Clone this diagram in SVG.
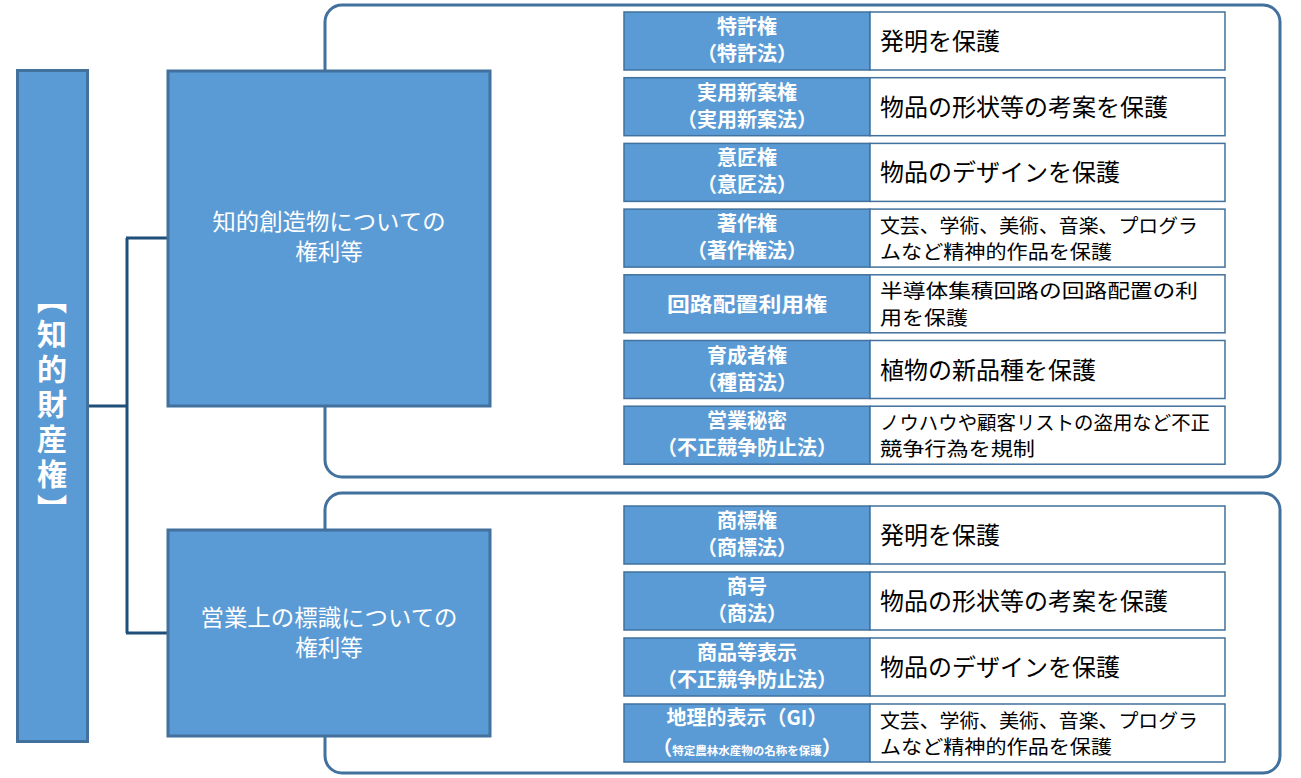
<svg xmlns="http://www.w3.org/2000/svg" width="1301" height="778" viewBox="0 0 1301 778">
<style>
.box{fill:#5B9BD5;stroke:#41719C;stroke-width:3}
.cont{fill:none;stroke:#41719C;stroke-width:3}
.conn{fill:none;stroke:#1F4E79;stroke-width:3}
.kc{fill:#5B9BD5;stroke:#41719C;stroke-width:1.5}
.vc{fill:#FFFFFF;stroke:#41719C;stroke-width:1.5}
.t{font-family:"Noto Sans CJK JP","Noto Sans CJK SC",sans-serif}
.w{fill:#FFFFFF}
.kt{fill:#FFFFFF;font-weight:bold;font-size:20px;text-anchor:middle}
.vt{fill:#000000;font-size:24px}
.vt2{fill:#000000;font-size:19.5px}
.mt{fill:#FFFFFF;font-size:22.5px;text-anchor:middle}
</style>
<rect width="1301" height="778" fill="#FFFFFF"/>
<rect class="cont" x="325" y="5" width="955" height="472" rx="17"/>
<rect class="cont" x="325" y="493" width="955" height="280" rx="17"/>
<g id="connectors">
<path class="conn" d="M88,406 H127 M127,238 V633 M126,238 H167 M126,633 H167"/>
</g>
<g id="root">
<rect class="box" x="17.5" y="70.5" width="70" height="671"/>
<text class="t w" x="52" y="406" writing-mode="vertical-rl" text-anchor="middle" font-size="30" font-weight="bold" letter-spacing="5">【知的財産権】</text>
</g>
<g id="creation">
<rect class="box" x="168" y="71" width="322" height="335"/>
<text class="t mt" x="329" y="229.5" textLength="233" lengthAdjust="spacingAndGlyphs">知的創造物についての</text>
<text class="t mt" x="329" y="260">権利等</text>
</g>
<g id="marks">
<rect class="box" x="168" y="530" width="322" height="206"/>
<text class="t mt" x="329" y="625.5" textLength="257" lengthAdjust="spacingAndGlyphs">営業上の標識についての</text>
<text class="t mt" x="329" y="656">権利等</text>
</g>
<g id="patent">
<rect class="kc" x="624" y="12" width="246" height="58"/><rect class="vc" x="870" y="12" width="355" height="58"/>
<text class="t kt" x="747" y="34">特許権</text><text class="t kt" x="747" y="61">（特許法）</text>
<text class="t vt" x="880" y="50">発明を保護</text>
</g>
<g id="utility">
<rect class="kc" x="624" y="77.7" width="246" height="58"/><rect class="vc" x="870" y="77.7" width="355" height="58"/>
<text class="t kt" x="747" y="99.7">実用新案権</text><text class="t kt" x="747" y="126.7">（実用新案法）</text>
<text class="t vt" x="880" y="115.7">物品の形状等の考案を保護</text>
</g>
<g id="design">
<rect class="kc" x="624" y="143.4" width="246" height="58"/><rect class="vc" x="870" y="143.4" width="355" height="58"/>
<text class="t kt" x="747" y="165.4">意匠権</text><text class="t kt" x="747" y="192.4">（意匠法）</text>
<text class="t vt" x="880" y="181.4">物品のデザインを保護</text>
</g>
<g id="copyright">
<rect class="kc" x="624" y="209.1" width="246" height="58"/><rect class="vc" x="870" y="209.1" width="355" height="58"/>
<text class="t kt" x="747" y="231.1">著作権</text><text class="t kt" x="747" y="258.1">（著作権法）</text>
<text class="t vt2" x="880" y="232.6" textLength="318" lengthAdjust="spacingAndGlyphs">文芸、学術、美術、音楽、プログラ</text>
<text class="t vt2" x="880" y="259.1" textLength="232" lengthAdjust="spacingAndGlyphs">ムなど精神的作品を保護</text>
</g>
<g id="circuit">
<rect class="kc" x="624" y="274.8" width="246" height="58"/><rect class="vc" x="870" y="274.8" width="355" height="58"/>
<text class="t kt" x="747" y="311.8" font-size="21.5" textLength="160" lengthAdjust="spacingAndGlyphs">回路配置利用権</text>
<text class="t vt2" x="880" y="298.3" textLength="318" lengthAdjust="spacingAndGlyphs">半導体集積回路の回路配置の利</text>
<text class="t vt2" x="880" y="324.8" textLength="88" lengthAdjust="spacingAndGlyphs">用を保護</text>
</g>
<g id="breeder">
<rect class="kc" x="624" y="340.5" width="246" height="58"/><rect class="vc" x="870" y="340.5" width="355" height="58"/>
<text class="t kt" x="747" y="362.5">育成者権</text><text class="t kt" x="747" y="389.5">（種苗法）</text>
<text class="t vt" x="880" y="378.5">植物の新品種を保護</text>
</g>
<g id="secret">
<rect class="kc" x="624" y="406.2" width="246" height="58"/><rect class="vc" x="870" y="406.2" width="355" height="58"/>
<text class="t kt" x="747" y="428.2">営業秘密</text><text class="t kt" x="747" y="455.2">（不正競争防止法）</text>
<text class="t vt2" x="880" y="429.7" textLength="330" lengthAdjust="spacingAndGlyphs">ノウハウや顧客リストの盗用など不正</text>
<text class="t vt2" x="880" y="456.2" textLength="155" lengthAdjust="spacingAndGlyphs">競争行為を規制</text>
</g>
<g id="trademark">
<rect class="kc" x="624" y="506" width="246" height="58"/><rect class="vc" x="870" y="506" width="355" height="58"/>
<text class="t kt" x="747" y="528">商標権</text><text class="t kt" x="747" y="555">（商標法）</text>
<text class="t vt" x="880" y="544">発明を保護</text>
</g>
<g id="tradename">
<rect class="kc" x="624" y="572" width="246" height="58"/><rect class="vc" x="870" y="572" width="355" height="58"/>
<text class="t kt" x="747" y="594">商号</text><text class="t kt" x="747" y="621">（商法）</text>
<text class="t vt" x="880" y="610">物品の形状等の考案を保護</text>
</g>
<g id="indication">
<rect class="kc" x="624" y="638" width="246" height="58"/><rect class="vc" x="870" y="638" width="355" height="58"/>
<text class="t kt" x="747" y="660">商品等表示</text><text class="t kt" x="747" y="687">（不正競争防止法）</text>
<text class="t vt" x="880" y="676">物品のデザインを保護</text>
</g>
<g id="gi">
<rect class="kc" x="624" y="704" width="246" height="58"/><rect class="vc" x="870" y="704" width="355" height="58"/>
<text class="t kt" x="747" y="725">地理的表示（GI）</text>
<text class="t kt" x="747" y="755"><tspan>（</tspan><tspan font-size="11.5">特定農林水産物の名称を保護</tspan><tspan>）</tspan></text>
<text class="t vt2" x="880" y="727.5" textLength="318" lengthAdjust="spacingAndGlyphs">文芸、学術、美術、音楽、プログラ</text>
<text class="t vt2" x="880" y="754" textLength="232" lengthAdjust="spacingAndGlyphs">ムなど精神的作品を保護</text>
</g>
</svg>
